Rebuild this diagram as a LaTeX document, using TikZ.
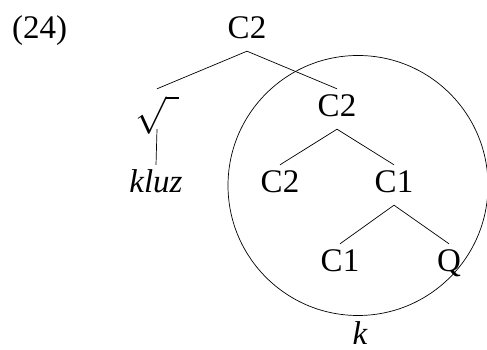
\documentclass[tikz,border=0pt]{standalone}
\usepackage{fontspec}
\setmainfont{Liberation Serif}
\begin{document}
\begin{tikzpicture}[x=1pt,y=1pt,
  every node/.style={font=\fontsize{33}{38}\selectfont},
  lab/.style={anchor=base, text height=23pt, text depth=7pt, inner xsep=0pt, inner ysep=5pt},
  branch/.style={line width=0.7pt}]
\useasboundingbox (0,0) rectangle (487,350);
\node[anchor=base west, inner sep=0pt] (ex) at (12,311) {(24)};
\node[lab] (top) at (247,311) {C2};
\node[lab] (rt) at (157,233) {\scalebox{1.5}{$\sqrt{\hphantom{i}}$}};
\node[lab] (kl) at (156,157) {\itshape kluz};
\node[lab] (c2b) at (337,233) {C2};
\node[lab] (c2c) at (280,157) {C2};
\node[lab] (c1a) at (394,157) {C1};
\node[lab] (c1b) at (340,78) {C1};
\node[lab] (q) at (449,78) {Q};
\node[anchor=base, inner sep=0pt] (k) at (360,5) {\itshape k};
\node[circle, draw, line width=0.7pt, minimum size=260pt, inner sep=0pt] (cyc) at (358,164.5) {};
\draw[branch] (top.south) -- (rt.north);
\draw[branch] (top.south) -- (c2b.north);
\draw[branch] (rt.south) -- (kl.north);
\draw[branch] (c2b.south) -- (c2c.north);
\draw[branch] (c2b.south) -- (c1a.north);
\draw[branch] (c1a.south) -- (c1b.north);
\draw[branch] (c1a.south) -- (q.north);
\end{tikzpicture}
\end{document}
